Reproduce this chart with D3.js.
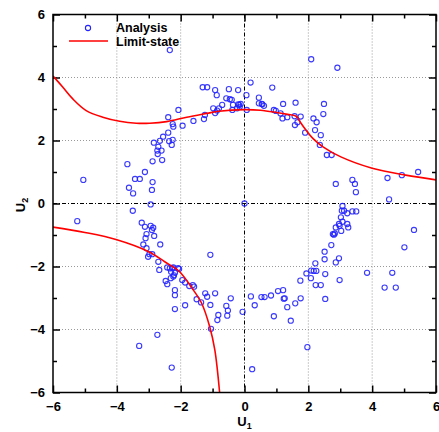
<!DOCTYPE html>
<html><head><meta charset="utf-8">
<script src="https://cdn.jsdelivr.net/npm/d3@7"></script>
<style>body{margin:0;background:#fff}svg{display:block}</style>
</head><body><svg id="c" width="439" height="432"></svg>
<script>
// ---- data ----
const analysisU1 = [-2.34,-1.31,-1.17,-0.92,-0.87,-0.98,-0.92,-1.24,-1.27,-1.60,-1.94,-2.07,-2.39,-2.25,-2.23,-2.39,-2.55,-2.84,-2.65,-2.36,-2.25,-2.28,-2.70,-2.73,-2.60,-2.72,-2.58,-2.88,-3.67,-3.12,-3.43,-3.28,-2.88,-3.62,-2.90,-3.49,-2.94,-3.50,-5.05,-5.24,
 0.19,0.87,-0.49,-0.20,0.06,-0.57,-0.46,-0.40,0.45,-0.70,-0.80,-0.36,-0.20,-0.17,-0.12,-0.15,-0.38,0.07,0.45,0.54,0.61,0.56,0.92,0.98,1.21,1.13,1.19,1.34,1.60,1.58,1.66,1.76,1.57,2.16,2.26,2.49,2.47,2.21,1.90,2.39,2.36,2.58,2.73,2.86,3.38,3.46,3.49,4.48,4.93,5.44,4.53,0.00,2.09,2.91,-0.86,-0.23,
 3.07,3.05,3.12,3.22,3.38,3.50,3.02,2.96,2.98,2.86,3.07,3.22,3.25,2.77,2.80,2.83,3.03,2.72,2.51,2.51,2.96,2.86,2.22,2.09,2.17,2.25,1.94,2.08,2.53,1.75,2.23,2.39,2.98,1.76,1.59,2.53,1.21,1.05,0.83,1.26,1.23,0.53,0.63,0.20,0.32,1.34,0.92,1.45,-0.06,1.97,0.24,5.31,5.01,3.84,4.63,4.39,4.74,
 -3.22,-3.12,-2.94,-2.86,-2.90,-3.07,-3.10,-2.83,-3.17,-3.07,-2.64,-2.98,-3.02,-2.89,-2.70,-2.42,-2.34,-2.23,-2.05,-2.67,-2.30,-2.18,-2.21,-2.23,-2.31,-2.47,-2.42,-1.95,-1.86,-2.18,-2.18,-1.73,-1.62,-1.58,-1.50,-1.36,-1.23,-1.17,-0.92,-1.07,-2.18,-1.86,-1.07,-0.82,-0.85,-1.05,-2.73,-3.30,-2.28,-0.43,-0.57,-0.52,-0.54,-2.27,-2.08];
const analysisU2 = [4.87,3.69,3.69,3.60,3.44,3.02,2.87,2.81,2.68,2.62,2.47,2.97,2.74,2.52,2.44,2.25,2.12,1.93,1.99,1.98,2.02,1.86,1.80,1.68,1.68,1.57,1.38,1.34,1.25,1.00,0.78,0.78,0.68,0.50,0.43,0.32,-0.03,-0.23,0.75,-0.56,
 3.84,3.68,3.63,3.60,3.44,3.34,3.31,3.29,3.36,3.13,3.02,3.13,3.15,3.13,3.16,3.07,2.97,2.97,3.18,3.16,3.10,3.15,2.97,2.94,3.16,2.86,2.70,2.74,3.20,2.49,2.58,2.76,2.77,2.70,2.58,3.16,2.84,2.33,2.25,2.17,1.86,1.54,1.54,0.62,0.75,0.62,0.36,0.81,0.90,1.00,0.13,0.00,4.58,4.31,2.95,3.02,
 -0.08,-0.23,-0.23,-0.31,-0.25,-0.25,-0.44,-0.65,-0.71,-0.76,-0.58,-0.65,-0.76,-0.97,-0.99,-0.95,-0.87,-1.32,-1.53,-1.77,-1.74,-1.87,-1.90,-2.13,-2.14,-2.14,-2.22,-2.37,-2.24,-2.45,-2.59,-2.59,-2.43,-3.01,-3.17,-3.03,-2.75,-2.78,-2.92,-3.01,-3.02,-2.97,-2.97,-2.95,-3.23,-3.29,-3.58,-3.72,-3.44,-4.56,-5.26,-0.84,-1.39,-2.20,-2.20,-2.67,-2.67,
 -0.61,-0.74,-0.71,-0.77,-0.84,-0.97,-1.10,-1.03,-1.30,-1.42,-1.30,-1.61,-1.69,-1.61,-1.85,-2.03,-2.06,-2.03,-2.08,-2.11,-2.17,-2.20,-2.28,-2.32,-2.37,-2.46,-2.56,-2.43,-2.51,-2.75,-2.91,-2.62,-2.59,-2.64,-3.04,-3.14,-2.85,-2.96,-2.85,-1.63,-3.35,-3.23,-3.22,-3.54,-3.70,-3.98,-4.17,-4.52,-5.21,-3.01,-3.25,-3.40,-3.56,-2.05,-2.05];

const limitUpperU1 = [-6,-5.69,-5.38,-4.96,-4.44,-3.91,-3.39,-2.97,-2.44,-1.81,-1.18,-0.80,0,0.5,1.0,1.35,1.62,1.75,1.89,2.15,2.46,3.02,4.0,5.05,6.0];
const limitUpperU2 = [4.05,3.69,3.32,2.95,2.74,2.61,2.55,2.55,2.60,2.74,2.86,2.93,2.98,2.96,2.89,2.83,2.77,2.58,2.38,2.06,1.80,1.48,1.12,0.90,0.75];
const limitLowerU1 = [-6,-5,-4,-3,-2.5,-2.05,-1.77,-1.6,-1.35,-1.09,-0.93,-0.78];
const limitLowerU2 = [-0.75,-0.92,-1.15,-1.53,-1.85,-2.15,-2.50,-2.75,-3.15,-3.91,-4.65,-6.0];

const majorTicks = [-6,-4,-2,0,2,4,6];
const minorTicks = [-5,-3,-1,1,3,5];
const gridValues = [-4,-2,2,4];
const legendLabels = ["Analysis","Limit-state"];

// ---- chart ----
const svg = d3.select("#c");
const L=53, R=436, T=14.5, B=392.5;
const x = d3.scaleLinear().domain([-6,6]).range([L,R]);
const y = d3.scaleLinear().domain([-6,6]).range([B,T]);
const font = "'Liberation Sans', Arial, sans-serif";

svg.append("defs").append("clipPath").attr("id","clip")
  .append("rect").attr("x",L).attr("y",T).attr("width",R-L).attr("height",B-T);

const g = svg.append("g");
// grid
gridValues.forEach(v=>{
  g.append("line").attr("x1",x(v)).attr("x2",x(v)).attr("y1",T).attr("y2",B)
   .attr("stroke","#999").attr("stroke-width",1).attr("stroke-dasharray","1,2");
  g.append("line").attr("y1",y(v)).attr("y2",y(v)).attr("x1",L).attr("x2",R)
   .attr("stroke","#999").attr("stroke-width",1).attr("stroke-dasharray","1,2");
});
g.append("line").attr("x1",x(0)).attr("x2",x(0)).attr("y1",T).attr("y2",B)
 .attr("stroke","#000").attr("stroke-width",1).attr("stroke-dasharray","4,2,1,2");
g.append("line").attr("y1",y(0)).attr("y2",y(0)).attr("x1",L).attr("x2",R)
 .attr("stroke","#000").attr("stroke-width",1).attr("stroke-dasharray","4,2,1,2");

// axes
function styleAxis(sel){
  sel.select(".domain").remove();
  sel.selectAll(".tick line").attr("stroke","#000").attr("stroke-width",1.5);
  sel.selectAll(".tick text").attr("font-family",font).attr("font-weight","bold").attr("font-size",13).attr("fill","#000");
}
svg.append("g").attr("transform",`translate(0,${B})`)
  .call(d3.axisBottom(x).tickValues(majorTicks).tickSize(-7).tickPadding(9).tickFormat(d3.format("d"))).call(styleAxis);
svg.append("g").attr("transform",`translate(0,${B})`)
  .call(d3.axisBottom(x).tickValues(minorTicks).tickSize(-4).tickFormat("")).call(styleAxis);
svg.append("g").attr("transform",`translate(0,${T})`)
  .call(d3.axisTop(x).tickValues(majorTicks).tickSize(-7).tickFormat("")).call(styleAxis);
svg.append("g").attr("transform",`translate(0,${T})`)
  .call(d3.axisTop(x).tickValues(minorTicks).tickSize(-4).tickFormat("")).call(styleAxis);
svg.append("g").attr("transform",`translate(${L},0)`)
  .call(d3.axisLeft(y).tickValues(majorTicks).tickSize(-7).tickPadding(8).tickFormat(d3.format("d"))).call(styleAxis);
svg.append("g").attr("transform",`translate(${L},0)`)
  .call(d3.axisLeft(y).tickValues(minorTicks).tickSize(-4).tickFormat("")).call(styleAxis);
svg.append("g").attr("transform",`translate(${R},0)`)
  .call(d3.axisRight(y).tickValues(majorTicks).tickSize(-7).tickFormat("")).call(styleAxis);
svg.append("g").attr("transform",`translate(${R},0)`)
  .call(d3.axisRight(y).tickValues(minorTicks).tickSize(-4).tickFormat("")).call(styleAxis);

// points
const pts = analysisU1.map((u,i)=>({u1:u,u2:analysisU2[i]}));
svg.append("g").selectAll("circle").data(pts).join("circle")
  .attr("cx",d=>x(d.u1)).attr("cy",d=>y(d.u2)).attr("r",2.6)
  .attr("fill","none").attr("stroke","#2323ff").attr("stroke-width",1.1).attr("stroke-opacity",0.9);

// limit-state curves
const line = d3.line().x(d=>x(d[0])).y(d=>y(d[1])).curve(d3.curveCatmullRom.alpha(0.5));
const cg = svg.append("g").attr("clip-path","url(#clip)");
cg.append("path").datum(limitUpperU1.map((u,i)=>[u,limitUpperU2[i]]))
  .attr("d",line).attr("fill","none").attr("stroke","#ff0000").attr("stroke-width",1.6);
cg.append("path").datum(limitLowerU1.map((u,i)=>[u,limitLowerU2[i]]))
  .attr("d",line).attr("fill","none").attr("stroke","#ff0000").attr("stroke-width",1.6);

// frame
svg.append("rect").attr("x",L).attr("y",T).attr("width",R-L).attr("height",B-T)
  .attr("fill","none").attr("stroke","#000").attr("stroke-width",1.5);

// legend
const lg = svg.append("g");
lg.append("circle").attr("cx",88).attr("cy",28).attr("r",2.6)
  .attr("fill","none").attr("stroke","#2323ff").attr("stroke-width",1.1);
lg.append("line").attr("x1",69).attr("x2",108).attr("y1",41).attr("y2",41)
  .attr("stroke","#ff0000").attr("stroke-width",1.6);
lg.selectAll("text").data(legendLabels).join("text")
  .attr("x",116).attr("y",(d,i)=>32+i*13.5)
  .attr("font-family",font).attr("font-weight","bold").attr("font-size",12.5).text(d=>d);

// axis titles
const xt = svg.append("text").attr("x",244.5).attr("y",426).attr("text-anchor","middle")
  .attr("font-family",font).attr("font-weight","bold").attr("font-size",13);
xt.append("tspan").text("U");
xt.append("tspan").attr("font-size",9).attr("dy",2.5).text("1");
const yt = svg.append("text").attr("transform","translate(25,205) rotate(-90)").attr("text-anchor","middle")
  .attr("font-family",font).attr("font-weight","bold").attr("font-size",13);
yt.append("tspan").text("U");
yt.append("tspan").attr("font-size",9).attr("dy",2.5).text("2");
</script></body></html>
